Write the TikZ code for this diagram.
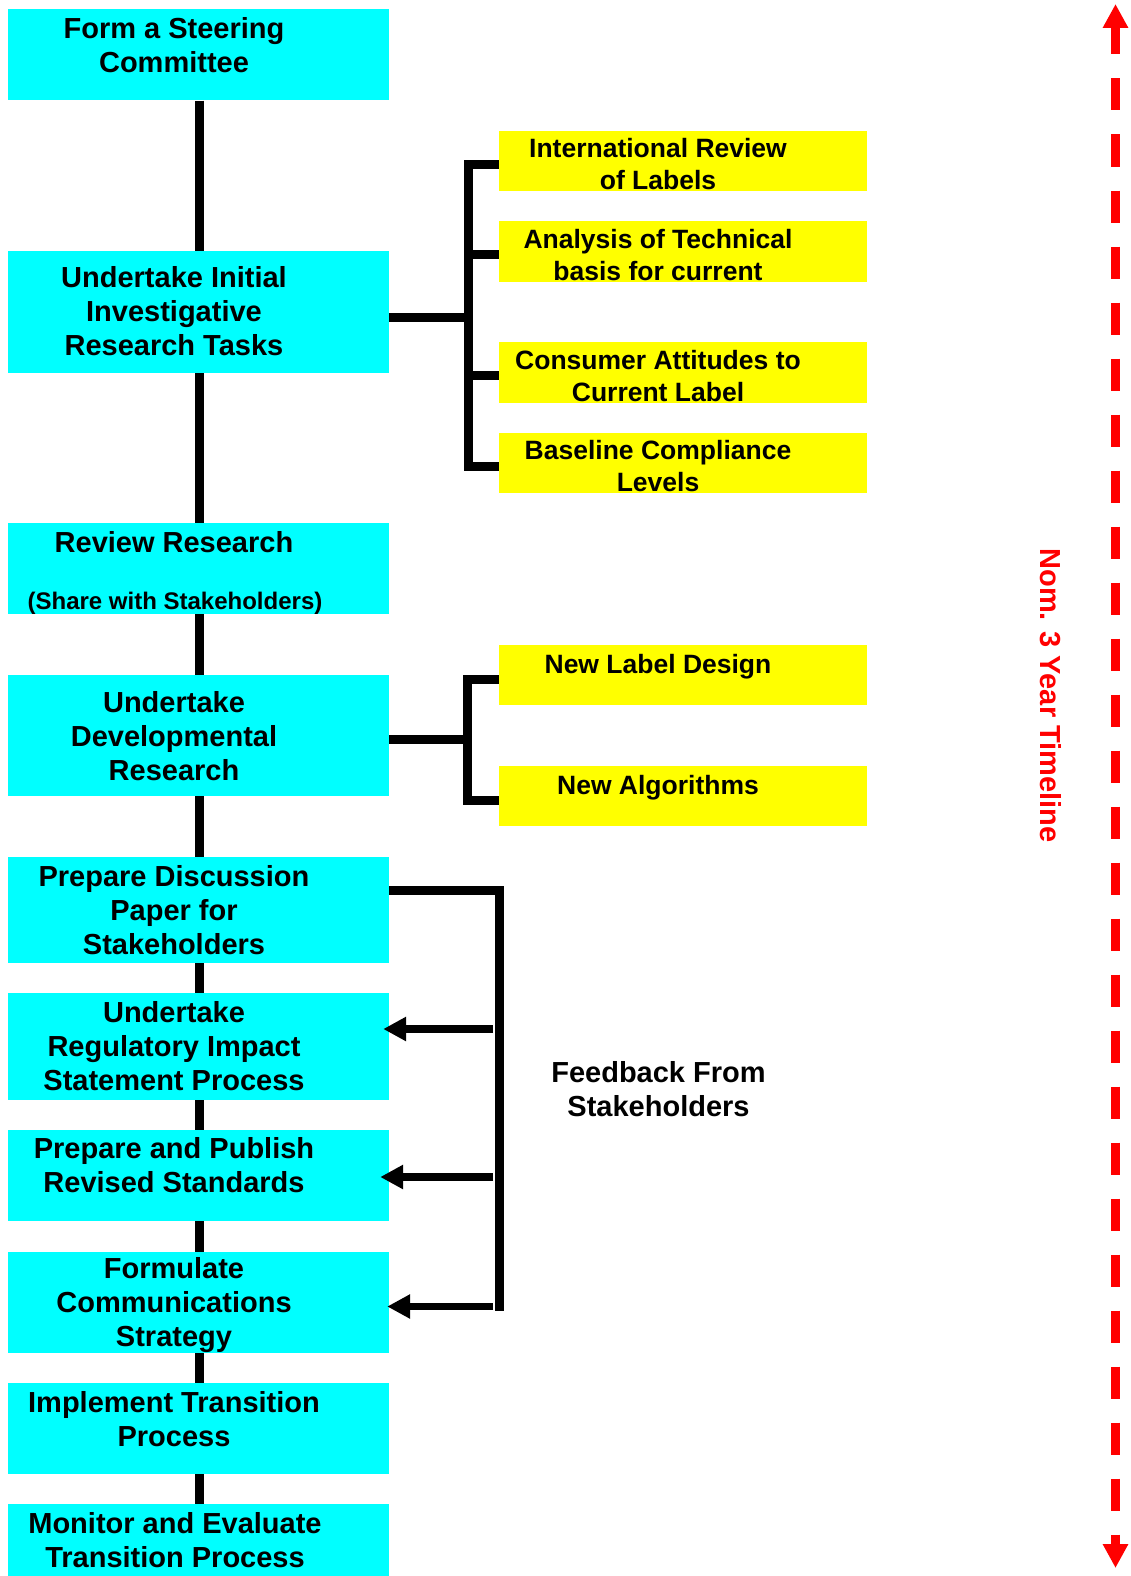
\documentclass[tikz,border=0pt]{standalone}
\usepackage{fontspec}
\setmainfont{Liberation Sans}
\usetikzlibrary{arrows.meta}
\definecolor{boxcyan}{RGB}{0,255,255}
\definecolor{boxyellow}{RGB}{255,255,0}
\definecolor{tlred}{RGB}{255,0,0}
\begin{document}
\begin{tikzpicture}[x=1pt,y=-1pt,
  cbox/.style={rectangle, fill=boxcyan, draw=none, inner sep=0pt, minimum width=381pt},
  ybox/.style={rectangle, fill=boxyellow, draw=none, inner sep=0pt, minimum width=368pt, minimum height=60.5pt},
  maintxt/.style={inner sep=0pt, align=center, font=\bfseries\fontsize{29}{34}\selectfont},
  smalltxt/.style={inner sep=0pt, align=center, font=\bfseries\fontsize{26.5}{31.5}\selectfont},
  sharetxt/.style={inner sep=0pt, align=center, font=\bfseries\fontsize{24}{28}\selectfont},
  conn/.style={line width=9pt, black, line join=miter},
  fbarrow/.style={line width=7.5pt, black, -{Triangle[length=23pt,width=23pt]}},
  timeline/.style={line width=9pt, tlred, dash pattern=on 32pt off 24pt, dash phase=4pt,
    {Triangle[length=24pt,width=24pt]}-{Triangle[length=24pt,width=24pt]}}
]
\useasboundingbox (0,0) rectangle (1131,1576);

% main boxes
\node[cbox, minimum height=91.5pt] (b1) at (198.5,54.75) {};
\node[cbox, minimum height=122pt] (b2) at (198.5,312) {};
\node[cbox, minimum height=91pt] (b3) at (198.5,568.5) {};
\node[cbox, minimum height=121pt] (b4) at (198.5,735.5) {};
\node[cbox, minimum height=106pt] (b5) at (198.5,910) {};
\node[cbox, minimum height=107pt] (b6) at (198.5,1046.5) {};
\node[cbox, minimum height=91pt] (b7) at (198.5,1175.5) {};
\node[cbox, minimum height=101pt] (b8) at (198.5,1302.5) {};
\node[cbox, minimum height=91pt] (b9) at (198.5,1428.5) {};
\node[cbox, minimum height=72pt] (b10) at (198.5,1540) {};

% yellow boxes
\node[ybox] (y1) at (683,161) {};
\node[ybox] (y2) at (683,251.5) {};
\node[ybox] (y3) at (683,372.5) {};
\node[ybox] (y4) at (683,463) {};
\node[ybox] (y5) at (683,675) {};
\node[ybox] (y6) at (683,796) {};

% central spine
\draw[conn] ([xshift=1pt]b1.south) -- ([xshift=1pt]b2.north);
\draw[conn] ([xshift=1pt]b2.south) -- ([xshift=1pt]b3.north);
\draw[conn] ([xshift=1pt]b3.south) -- ([xshift=1pt]b4.north);
\draw[conn] ([xshift=1pt]b4.south) -- ([xshift=1pt]b5.north);
\draw[conn] ([xshift=1pt]b5.south) -- ([xshift=1pt]b6.north);
\draw[conn] ([xshift=1pt]b6.south) -- ([xshift=1pt]b7.north);
\draw[conn] ([xshift=1pt]b7.south) -- ([xshift=1pt]b8.north);
\draw[conn] ([xshift=1pt]b8.south) -- ([xshift=1pt]b9.north);
\draw[conn] ([xshift=1pt]b9.south) -- ([xshift=1pt]b10.north);

% bracket 1
\coordinate (j1) at (468.5,317);
\coordinate (s1) at ([yshift=-3pt]y1.west);
\coordinate (s2) at ([yshift=-3pt]y2.west);
\coordinate (s3) at ([yshift=-3pt]y3.west);
\coordinate (s4) at ([yshift=-3pt]y4.west);
\draw[conn] (b2.east |- j1) -- (j1);
\draw[conn] (s1) -| (j1) |- (s4);
\draw[conn] (j1 |- s2) -- (s2);
\draw[conn] (j1 |- s3) -- (s3);

% bracket 2
\coordinate (j2) at (467,739);
\coordinate (s5) at ([yshift=-4pt]y5.west);
\coordinate (s6) at ([yshift=-4pt]y6.west);
\draw[conn] (b4.east |- j2) -- (j2);
\draw[conn] (s5) -| (j2) |- (s6);

% feedback bracket
\coordinate (fbtop) at (499.5,890);
\coordinate (fbbot) at (499.5,1311);
\draw[conn] (b5.east |- fbtop) -- (fbtop) -- (fbbot);
\coordinate (a1) at (493,1029);
\coordinate (a2) at (493,1177);
\coordinate (a3) at (493,1306.5);
\draw[fbarrow] (a1) -- ([xshift=-6pt]a1 -| b6.east);
\draw[fbarrow] (a2) -- ([xshift=-9pt]a2 -| b7.east);
\draw[fbarrow] (a3) -- ([xshift=-2pt]a3 -| b8.east);

% timeline
\coordinate (tltop) at (1115.5,4);
\coordinate (tlbot) at (1115.5,1568);
\draw[timeline] (tltop) -- (tlbot);
\node[maintxt, text=tlred, rotate=-90] (tl) at (1051,695.5) {Nom. 3 Year Timeline};

% texts in main boxes
\node[maintxt] (t1) at (174,45) {Form a Steering\\Committee};
\node[maintxt] (t2) at (174,311.5) {Undertake Initial\\Investigative\\Research Tasks};
\node[maintxt] (t3a) at (174,542.5) {Review Research};
\node[sharetxt] (t3b) at (175,603) {(Share with Stakeholders)};
\node[maintxt] (t4) at (174,736) {Undertake\\Developmental\\Research};
\node[maintxt] (t5) at (174,910) {Prepare Discussion\\Paper for\\Stakeholders};
\node[maintxt] (t6) at (174,1046) {Undertake\\Regulatory Impact\\Statement Process};
\node[maintxt] (t7) at (174,1165) {Prepare and Publish\\Revised Standards};
\node[maintxt] (t8) at (174,1305) {Formulate\\Communications\\Strategy};
\node[maintxt] (t9) at (174,1419.5) {Implement Transition\\Process};
\node[maintxt] (t10) at (175,1540) {Monitor and Evaluate\\Transition Process};

% texts in yellow boxes
\node[smalltxt] (yt1) at (658,164) {International Review\\of Labels};
\node[smalltxt] (yt2) at (658,255) {Analysis of Technical\\basis for current};
\node[smalltxt] (yt3) at (658,376) {Consumer Attitudes to\\Current Label};
\node[smalltxt] (yt4) at (658,466) {Baseline Compliance\\Levels};
\node[smalltxt] (yt5) at (658,667) {New Label Design};
\node[smalltxt] (yt6) at (658,788) {New Algorithms};

% feedback label
\node[maintxt] (fb) at (658.5,1089) {Feedback From\\Stakeholders};
\end{tikzpicture}
\end{document}
